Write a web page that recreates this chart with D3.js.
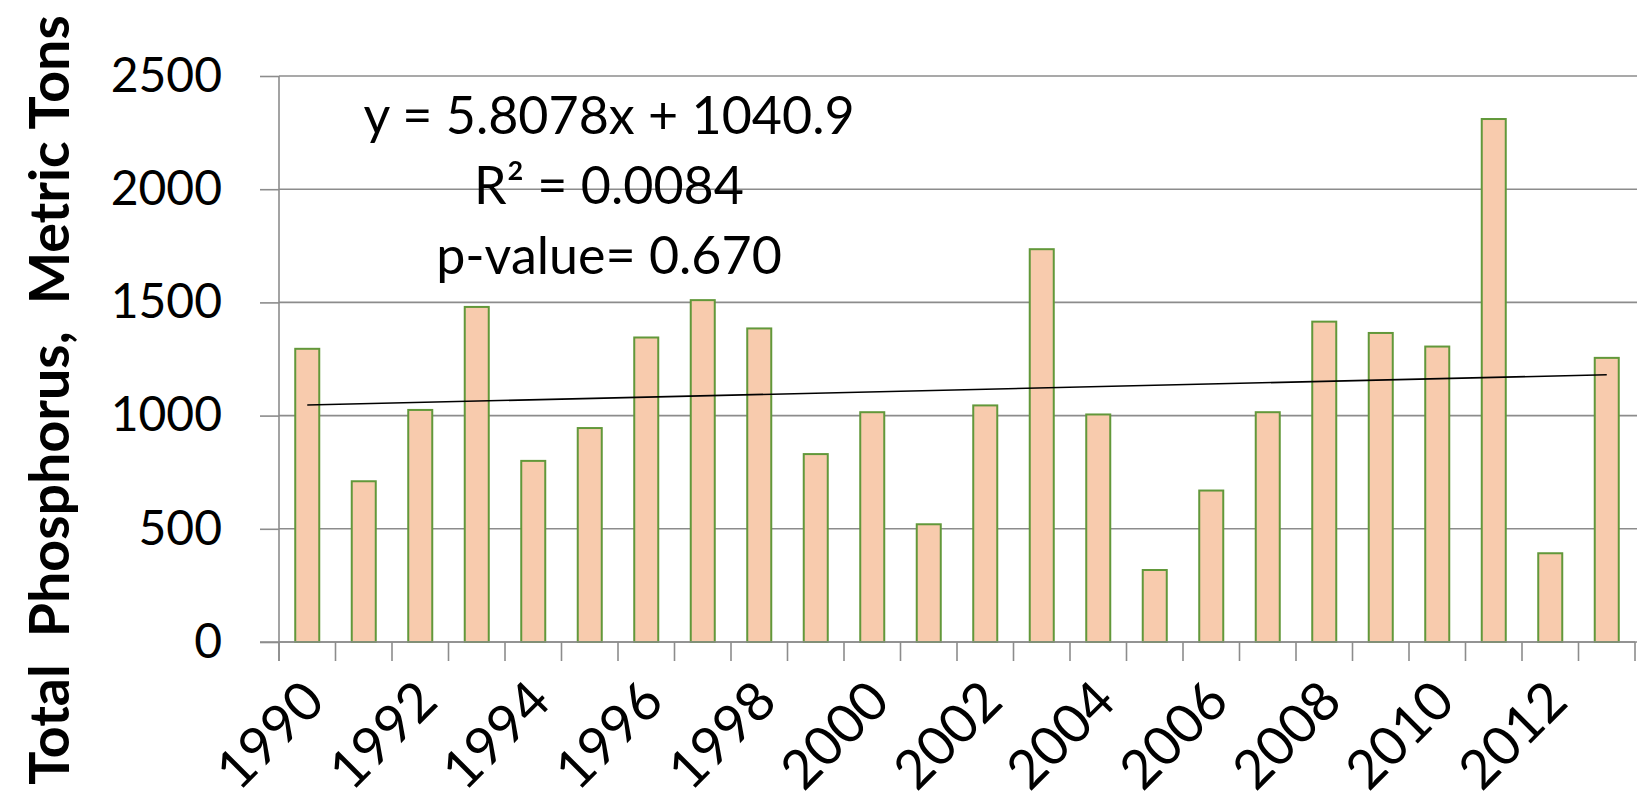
<!DOCTYPE html>
<html>
<head>
<meta charset="utf-8">
<script src="https://cdn.jsdelivr.net/npm/d3@7"></script>
<style>
  html, body { margin: 0; padding: 0; background: #fff; }
  svg { display: block; }
  text { font-family: Lato, "Open Sans", sans-serif; fill: #000; }
</style>
</head>
<body>
<svg id="chart" width="1638" height="803"></svg>
<script>
// ---- data ----
const years = [1990,1991,1992,1993,1994,1995,1996,1997,1998,1999,2000,2001,
               2002,2003,2004,2005,2006,2007,2008,2009,2010,2011,2012,2013];
const phosphorus = [1295,710,1025,1480,800,945,1345,1510,1385,830,1015,520,
                    1045,1735,1005,318,669,1015,1415,1365,1305,2310,392,1255];
const yTicks = [0,500,1000,1500,2000,2500];
const xTickLabels = [1990,1992,1994,1996,1998,2000,2002,2004,2006,2008,2010,2012];
const trendSlope = 5.8078;
const trendIntercept = 1040.9;
const annotationLines = ["y = 5.8078x + 1040.9", "R\u00B2 = 0.0084", "p-value= 0.670"];
const yTitle = "Total  Phosphorus,  Metric Tons";

// ---- layout ----
const svg = d3.select("#chart");
const plotL = 279, plotR = 1635, plotT = 76, plotB = 642;
const gridColor = "#8c8c8c";

const x = d3.scaleBand().domain(years).range([plotL, plotR])
  .paddingInner(0.575).paddingOuter(0.2875);
const y = d3.scaleLinear().domain([0, 2500]).range([plotB, plotT]);

// y ticks + labels
const yAxis = d3.axisLeft(y).tickValues(yTicks).tickSize(19).tickPadding(38)
  .tickFormat(d3.format("d"));
const gy = svg.append("g").attr("transform", `translate(${plotL},0)`).call(yAxis);
gy.select(".domain").remove();
gy.selectAll(".tick line").attr("stroke", gridColor).attr("stroke-width", 1.6);
gy.selectAll(".tick text").attr("font-size", 48).attr("font-family", "Lato").attr("fill", "#000");

// gridlines
svg.append("g").selectAll("line").data(yTicks).join("line")
  .attr("x1", plotL).attr("x2", plotR + 2)
  .attr("y1", d => y(d)).attr("y2", d => y(d))
  .attr("stroke", gridColor).attr("stroke-width", 1.6);

// bars
svg.append("g").selectAll("rect").data(years).join("rect")
  .attr("x", d => x(d))
  .attr("y", (d, i) => y(phosphorus[i]))
  .attr("width", x.bandwidth())
  .attr("height", (d, i) => y(0) - y(phosphorus[i]))
  .attr("fill", "#F8CBAD")
  .attr("stroke", "#62983A")
  .attr("stroke-width", 2);

// x axis ticks at category boundaries
const boundaries = d3.range(years.length + 1).map(k => plotL + k * x.step());
svg.append("g").selectAll("line").data(boundaries).join("line")
  .attr("x1", d => d).attr("x2", d => d)
  .attr("y1", plotB).attr("y2", plotB + 19)
  .attr("stroke", gridColor).attr("stroke-width", 1.6);
// y axis line
svg.append("line").attr("x1", plotL).attr("x2", plotL)
  .attr("y1", plotT).attr("y2", plotB + 19)
  .attr("stroke", gridColor).attr("stroke-width", 1.6);
// x axis baseline
svg.append("line").attr("x1", plotL - 19).attr("x2", plotR)
  .attr("y1", plotB).attr("y2", plotB)
  .attr("stroke", gridColor).attr("stroke-width", 1.6);

// x labels rotated
svg.append("g").selectAll("text").data(xTickLabels).join("text")
  .attr("transform", d => `translate(${x(d) + x.bandwidth() / 2 + 20},${704}) rotate(-45)`)
  .attr("text-anchor", "end")
  .attr("font-size", 54)
  .text(d => d);

// trend line
const i0 = 1, i1 = years.length;
svg.append("line")
  .attr("x1", x(years[0]) + x.bandwidth() / 2)
  .attr("x2", x(years[years.length - 1]) + x.bandwidth() / 2)
  .attr("y1", y(trendSlope * i0 + trendIntercept))
  .attr("y2", y(trendSlope * i1 + trendIntercept))
  .attr("stroke", "#000").attr("stroke-width", 1.6);

// annotation
const annoY = [134, 204, 274];
svg.append("g").selectAll("text").data(annotationLines).join("text")
  .attr("x", 609).attr("y", (d, i) => annoY[i])
  .attr("text-anchor", "middle")
  .attr("font-size", 52)
  .text(d => d);

// y title
svg.append("text")
  .attr("transform", `translate(69,400) rotate(-90)`)
  .attr("text-anchor", "middle")
  .attr("font-size", 55.5)
  .attr("font-weight", "bold")
  .style("white-space", "pre")
  .text(yTitle);
</script>
</body>
</html>
